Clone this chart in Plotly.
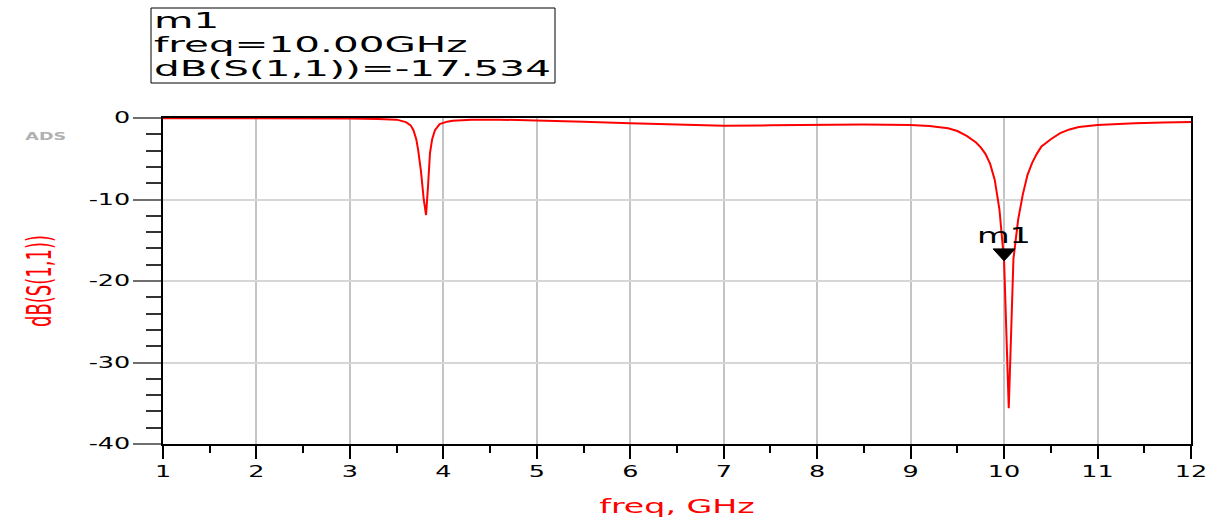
import json
import plotly.graph_objects as go

# S11 sweep of the filter (frequency in GHz, magnitude in dB)
freq_ghz = [
    1.0, 1.5, 2.0, 2.5, 3.0, 3.3, 3.5, 3.6, 3.65, 3.68, 3.71, 3.73, 3.76, 3.79,
    3.815, 3.835, 3.857, 3.88, 3.91, 3.96, 4.04, 4.1, 4.3, 4.6, 5.0, 5.5, 6.0,
    6.5, 7.0, 7.5, 8.0, 8.5, 9.0, 9.2, 9.4, 9.5, 9.6, 9.7, 9.75, 9.8, 9.85,
    9.9, 9.95, 10.0, 10.05, 10.1, 10.15, 10.2, 10.25, 10.3, 10.35, 10.4, 10.5,
    10.6, 10.7, 10.8, 11.0, 11.2, 11.4, 11.7, 12.0,
]
s11_db = [
    -0.02, -0.02, -0.03, -0.04, -0.07, -0.12, -0.2, -0.5, -0.9, -1.5, -2.6,
    -3.9, -6.5, -10.0, -11.9, -8.5, -4.3, -2.6, -1.5, -0.75, -0.45, -0.33,
    -0.2, -0.2, -0.28, -0.45, -0.65, -0.83, -0.94, -0.9, -0.83, -0.8, -0.86,
    -0.98, -1.27, -1.6, -2.2, -3.0, -3.6, -4.4, -5.6, -7.6, -11.2, -17.534,
    -35.6, -17.3, -12.5, -9.4, -7.0, -5.5, -4.4, -3.5, -2.6, -1.85, -1.4,
    -1.1, -0.85, -0.74, -0.65, -0.56, -0.49,
]

# marker m1
marker_name = "m1"
marker_freq = 10.00
marker_db = -17.534

# axis ticks
x_tick_vals = [1, 2, 3, 4, 5, 6, 7, 8, 9, 10, 11, 12]
y_tick_vals = [0, -10, -20, -30, -40]
y_tick_text = ["0", "-10", "-20", "-30", "-40"]

FONT = "DejaVu Sans, Liberation Sans, Arial, sans-serif"
L, R, T, B = 163, 24, 118, 75
W, H = 1215, 519
PW, PH = W - L - R, H - T - B


def px_x(p):
    return (p - L) / PW


def px_y(p):
    return (H - B - p) / PH


fig = go.Figure()
fig.add_trace(go.Scatter(
    x=freq_ghz, y=s11_db, mode="lines",
    line=dict(color="#ff0000", width=2), hoverinfo="skip", showlegend=False,
))

# marker triangle with its tip on the trace
fig.add_shape(
    type="path", xref="x", yref="y", xsizemode="pixel", ysizemode="pixel",
    xanchor=marker_freq, yanchor=marker_db,
    path="M -11 12 L 11 12 L 0 0 Z",
    fillcolor="black", line=dict(color="black", width=1),
)

# per-annotation glyph widening and horizontal alignment, in order
ann_stretch = []
ann_align = []

fig.add_annotation(
    x=marker_freq, y=marker_db, xref="x", yref="y", text=marker_name,
    showarrow=False, yanchor="bottom", yshift=11,
    font=dict(family=FONT, size=21, color="black"),
)
ann_stretch.append(1.6)
ann_align.append("middle")

# marker readout box
fig.add_shape(
    type="rect", xref="paper", yref="paper",
    x0=px_x(151), x1=px_x(555), y0=px_y(83), y1=px_y(8),
    line=dict(color="black", width=1), fillcolor="white",
)
readout = [
    marker_name,
    f"freq={marker_freq:.2f}GHz",
    f"dB(S(1,1))={marker_db:.3f}",
]
for line_text, cy in zip(readout, [21, 45, 68]):
    fig.add_annotation(
        x=px_x(153), y=px_y(cy), xref="paper", yref="paper",
        text=line_text, showarrow=False, xanchor="left", yanchor="middle",
        borderpad=0, font=dict(family=FONT, size=22, color="black"),
    )
    ann_stretch.append(1.84)
    ann_align.append("start")

# ADS logo
fig.add_annotation(
    x=px_x(31), y=px_y(128), xref="paper", yref="paper", text="<b>ADS</b>",
    showarrow=False, font=dict(family=FONT, size=11, color="#b0b0b0"),
)
ann_stretch.append(1.6)
ann_align.append("middle")

fig.update_xaxes(
    range=[1, 12], tickvals=x_tick_vals, automargin=False,
    showgrid=True, gridcolor="#c4c4c4", gridwidth=2,
    showline=True, linecolor="black", linewidth=1.5, mirror=True,
    ticks="outside", ticklen=13, tickwidth=2, tickcolor="black",
    minor=dict(dtick=0.5, ticks="outside", ticklen=7, tickwidth=2,
               tickcolor="black", showgrid=False),
    tickfont=dict(family=FONT, size=15, color="black"),
    zeroline=False,
    title=dict(text="freq, GHz", standoff=20,
               font=dict(family=FONT, size=19, color="#ff0000")),
)
fig.update_yaxes(
    range=[-40, 0], tickvals=y_tick_vals, ticktext=y_tick_text,
    automargin=False,
    showgrid=True, gridcolor="#d6d6d6", gridwidth=2,
    showline=True, linecolor="black", linewidth=1.5, mirror=True,
    ticks="outside", ticklen=28, tickwidth=2, tickcolor="#6e6e6e",
    minor=dict(dtick=2, ticks="outside", ticklen=15, tickwidth=2,
               tickcolor="#333333", showgrid=False),
    tickfont=dict(family=FONT, size=15, color="black"),
    zeroline=False,
    title=dict(text="dB(S(1,1))", standoff=44,
               font=dict(family=FONT, size=34, color="#ff0000")),
)

fig.update_layout(
    width=W, height=H, autosize=False,
    margin=dict(l=L, r=R, t=T, b=B, pad=0),
    paper_bgcolor="white", plot_bgcolor="white",
    showlegend=False,
)

# ADS-style lettering: horizontal texts are drawn wide, the rotated
# y title is drawn narrow along its baseline
stretch_js = """
var gd = document.getElementById('{plot_id}');
var annStretch = %s;
var annAlign = %s;
function widen(el, k) {
    el.removeAttribute('textLength');
    var w = el.getComputedTextLength();
    if (w > 0) {
        el.setAttribute('lengthAdjust', 'spacingAndGlyphs');
        el.setAttribute('textLength', (w * k).toFixed(1));
    }
    return w;
}
gd.querySelectorAll('.xtick text, .ytick text').forEach(function (t) { widen(t, 1.7); });
gd.querySelectorAll('.g-xtitle text').forEach(function (t) { widen(t, 1.75); });
gd.querySelectorAll('.g-ytitle text').forEach(function (t) { widen(t, 0.53); });
gd.querySelectorAll('.annotation').forEach(function (g) {
    var i = parseInt(g.getAttribute('data-index'), 10);
    var t = g.querySelector('text');
    if (!t || !annStretch[i]) { return; }
    var w = widen(t, annStretch[i]);
    if (annAlign[i] === 'start') {
        var x = parseFloat(t.getAttribute('x') || '0');
        t.setAttribute('text-anchor', 'start');
        t.setAttribute('x', (x - w / 2).toFixed(1));
    }
});
""" % (json.dumps(ann_stretch), json.dumps(ann_align))

fig.write_html("out.html", post_script=stretch_js)
